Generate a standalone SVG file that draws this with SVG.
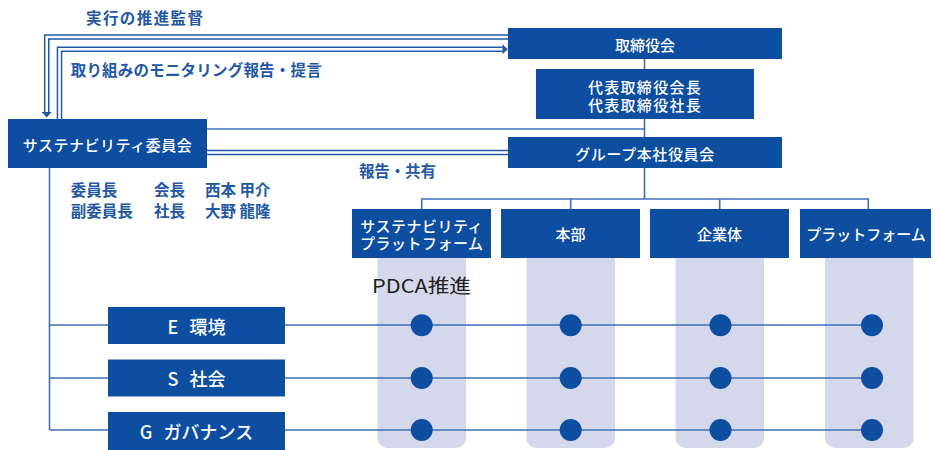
<svg xmlns="http://www.w3.org/2000/svg" width="933" height="450" viewBox="0 0 933 450">
<defs>
<style>
.box{fill:#0d4ea0}
.col{fill:#d5d8eb}
.ln{fill:none;stroke:#3f6fb4;stroke-width:1.6}
.pipe{fill:none;stroke:#1f58a6;stroke-width:5.6}
.pipe-in{fill:none;stroke:#fff;stroke-width:2.6}
.dot{fill:#0d4ea0}
.bt{font-family:"Noto Sans CJK JP","Noto Sans",sans-serif;font-size:15px;font-weight:500;fill:#fff;text-anchor:middle;dominant-baseline:central}
.esg{font-family:"Noto Sans CJK JP","Noto Sans",sans-serif;font-size:18px;font-weight:500;fill:#fff;text-anchor:middle;dominant-baseline:central}
.lb{font-family:"Noto Sans CJK JP","Noto Sans",sans-serif;font-size:15.5px;font-weight:700;fill:#2458a4;dominant-baseline:central}
.pd{font-family:"Noto Sans CJK JP","Noto Sans",sans-serif;font-size:19px;font-weight:400;fill:#231f20;text-anchor:middle;dominant-baseline:central}
</style>
<marker id="ah" markerUnits="userSpaceOnUse" markerWidth="6" markerHeight="10" refX="0" refY="5" orient="auto" viewBox="0 0 6 10">
<path d="M0,0 L5.5,5 L0,10 Z" fill="#1f58a6"/>
</marker>
</defs>

<g id="columns">
<path class="col" d="M377.5 258 H466 V438 a10 10 0 0 1 -10 10 H387.5 a10 10 0 0 1 -10 -10 Z"/>
<path class="col" d="M526.5 258 H615 V438 a10 10 0 0 1 -10 10 H536.5 a10 10 0 0 1 -10 -10 Z"/>
<path class="col" d="M675.5 258 H764 V438 a10 10 0 0 1 -10 10 H685.5 a10 10 0 0 1 -10 -10 Z"/>
<path class="col" d="M825 258 H913.5 V438 a10 10 0 0 1 -10 10 H835 a10 10 0 0 1 -10 -10 Z"/>
</g>

<g id="connectors">
<path class="pipe" d="M508 37 H46.7 V112" marker-end="url(#ah)"/>
<path class="pipe-in" d="M508 37 H46.7 V112"/>
<path class="pipe" d="M59.5 119 V49.3 H502.3" marker-end="url(#ah)"/>
<path class="pipe-in" d="M59.5 119 V49.3 H502.3"/>
<path class="pipe" d="M207 152.5 H508"/>
<path class="pipe-in" d="M207 152.5 H508"/>
<path class="ln" d="M207 129 H644.5"/>
<path class="ln" d="M644.5 59 V199"/>
<path class="ln" d="M421.7 209 V199 H868.3 V209"/>
<path class="ln" d="M570.7 199 V209"/>
<path class="ln" d="M719.7 199 V209"/>
<path class="ln" d="M49.5 168 V430"/>
<path class="ln" d="M49.5 325 H872"/>
<path class="ln" d="M49.5 378 H872"/>
<path class="ln" d="M49.5 430 H872"/>
</g>

<g id="n-board"><rect class="box" x="508" y="28" width="274" height="31"/><text class="bt" x="645" y="44">取締役会</text></g>
<g id="n-ceo"><rect class="box" x="536" y="69" width="218" height="50"/><text class="bt" font-size="14.5" letter-spacing="1.3"><tspan x="645" y="86">代表取締役会長</tspan><tspan x="645" y="103.5">代表取締役社長</tspan></text></g>
<g id="n-group"><rect class="box" x="508" y="137" width="274" height="31"/><text class="bt" x="645" y="153" letter-spacing="0.6">グループ本社役員会</text></g>
<g id="n-committee"><rect class="box" x="8" y="119" width="199" height="49"/><text class="bt" x="107.5" y="144" letter-spacing="0.5">サステナビリティ委員会</text></g>

<g id="n-sp"><rect class="box" x="352" y="209" width="139" height="49"/><text class="bt" font-size="14.5" letter-spacing="0.5"><tspan x="421.7" y="224.5">サステナビリティ</tspan><tspan x="421.7" y="242">プラットフォーム</tspan></text></g>
<g id="n-hq"><rect class="box" x="501" y="209" width="139" height="49"/><text class="bt" x="570.5" y="233.5">本部</text></g>
<g id="n-corp"><rect class="box" x="650" y="209" width="139" height="49"/><text class="bt" x="719.5" y="233.5">企業体</text></g>
<g id="n-pf"><rect class="box" x="800" y="209" width="131" height="49"/><text class="bt" x="866" y="233.5">プラットフォーム</text></g>

<g id="n-e"><rect class="box" x="108" y="307" width="177" height="37"/><text class="esg" x="196.5" y="325.5" word-spacing="7">E 環境</text></g>
<g id="n-s"><rect class="box" x="108" y="359.5" width="177" height="37"/><text class="esg" x="196.5" y="378" word-spacing="7">S 社会</text></g>
<g id="n-g"><rect class="box" x="108" y="412" width="177" height="38"/><text class="esg" x="196.5" y="430.5" word-spacing="7">G ガバナンス</text></g>

<g id="dots">
<circle class="dot" cx="421.7" cy="325.3" r="11"/><circle class="dot" cx="570.7" cy="325.3" r="11"/><circle class="dot" cx="720.5" cy="325.3" r="11"/><circle class="dot" cx="872" cy="325.3" r="11"/>
<circle class="dot" cx="421.7" cy="378" r="11"/><circle class="dot" cx="570.7" cy="378" r="11"/><circle class="dot" cx="720.5" cy="378" r="11"/><circle class="dot" cx="872" cy="378" r="11"/>
<circle class="dot" cx="421.7" cy="430" r="11"/><circle class="dot" cx="570.7" cy="430" r="11"/><circle class="dot" cx="720.5" cy="430" r="11"/><circle class="dot" cx="872" cy="430" r="11"/>
</g>

<g id="labels">
<text class="lb" x="86" y="17" textLength="117" lengthAdjust="spacing">実行の推進監督</text>
<text class="lb" x="70.7" y="68.5" textLength="251" lengthAdjust="spacing">取り組みのモニタリング報告・提言</text>
<text class="lb" x="359" y="170" textLength="77" lengthAdjust="spacing">報告・共有</text>
<text class="lb" x="70.7" y="188.5">委員長</text>
<text class="lb" x="154" y="188.5">会長</text>
<text class="lb" x="205" y="188.5">西本 甲介</text>
<text class="lb" x="70.7" y="210">副委員長</text>
<text class="lb" x="154" y="210">社長</text>
<text class="lb" x="205" y="210">大野 龍隆</text>
<text class="pd" x="421.5" y="284.5" textLength="99" lengthAdjust="spacingAndGlyphs">PDCA推進</text>
</g>
</svg>
